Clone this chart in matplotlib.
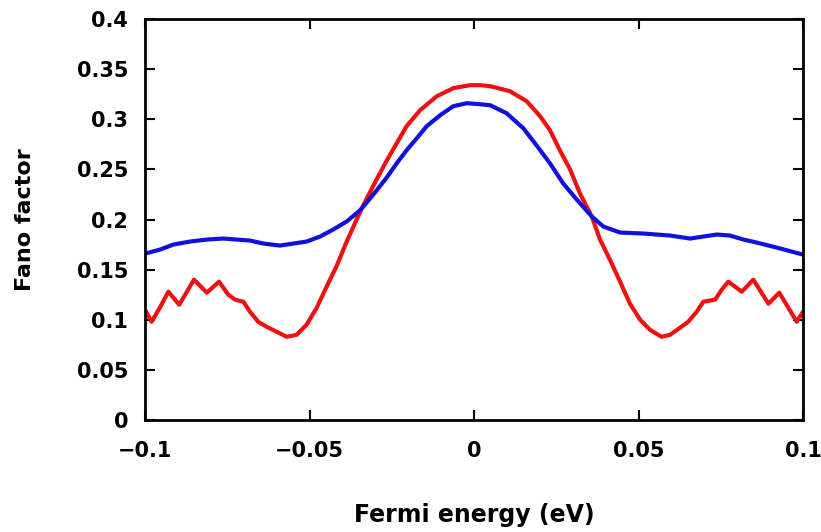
import matplotlib
matplotlib.use("Agg")
import matplotlib.pyplot as plt

# Fermi energy (eV) and Fano factor
red_x = [-0.1000, -0.0980, -0.0955, -0.0929, -0.0896, -0.0851, -0.0812, -0.0775,
         -0.0747, -0.0726, -0.0701, -0.0681, -0.0656, -0.0630, -0.0600, -0.0569,
         -0.0539, -0.0509, -0.0478, -0.0448, -0.0417, -0.0387, -0.0347,
         -0.0326, -0.0296, -0.0265, -0.0235, -0.0205, -0.0164, -0.0113, -0.0063,
         -0.0012, 0.0018, 0.0049, 0.0109, 0.0160, 0.0201, 0.0231, 0.0261,
         0.0292, 0.0322, 0.0358, 0.0383, 0.0413, 0.0444, 0.0474, 0.0505,
         0.0535, 0.0570, 0.0596, 0.0626, 0.0651, 0.0677, 0.0697, 0.0733,
         0.0753, 0.0773, 0.0814, 0.0849, 0.0895, 0.0928, 0.0981, 0.1000]
red_y = [0.110, 0.098, 0.112, 0.128, 0.115, 0.140, 0.127, 0.138,
         0.125, 0.120, 0.118, 0.108, 0.098, 0.093, 0.088, 0.083,
         0.085, 0.095, 0.112, 0.133, 0.154, 0.178, 0.207,
         0.221, 0.240, 0.259, 0.276, 0.293, 0.309, 0.323, 0.331,
         0.334, 0.334, 0.333, 0.328, 0.318, 0.303, 0.289, 0.269,
         0.250, 0.226, 0.203, 0.180, 0.160, 0.138, 0.116, 0.100,
         0.090, 0.083, 0.085, 0.092, 0.098, 0.108, 0.118, 0.120,
         0.130, 0.138, 0.128, 0.140, 0.116, 0.127, 0.098, 0.108]

blue_x = [-0.1000, -0.0954, -0.0914, -0.0863, -0.0812, -0.0762, -0.0721, -0.0681,
          -0.0640, -0.0590, -0.0549, -0.0509, -0.0468, -0.0428, -0.0387, -0.0347,
          -0.0326, -0.0296, -0.0265, -0.0235, -0.0205, -0.0174, -0.0144, -0.0103,
          -0.0063, -0.0022, 0.0018, 0.0049, 0.0099, 0.0150, 0.0190, 0.0231,
          0.0271, 0.0312, 0.0358, 0.0393, 0.0444, 0.0515, 0.0596, 0.0657,
          0.0697, 0.0738, 0.0778, 0.0819, 0.0859, 0.0920, 0.1000]
blue_y = [0.166, 0.170, 0.175, 0.178, 0.180, 0.181, 0.180, 0.179,
          0.176, 0.174, 0.176, 0.178, 0.183, 0.190, 0.198, 0.209,
          0.217, 0.229, 0.242, 0.256, 0.269, 0.281, 0.293, 0.304,
          0.313, 0.316, 0.315, 0.314, 0.306, 0.291, 0.274, 0.256,
          0.236, 0.220, 0.203, 0.193, 0.187, 0.186, 0.184, 0.181,
          0.183, 0.185, 0.184, 0.180, 0.177, 0.172, 0.165]

x_ticks = [-0.1, -0.05, 0, 0.05, 0.1]
x_tick_labels = ["\u22120.1", "\u22120.05", "0", "0.05", "0.1"]
y_ticks = [0, 0.05, 0.1, 0.15, 0.2, 0.25, 0.3, 0.35, 0.4]
y_tick_labels = ["0", "0.05", "0.1", "0.15", "0.2", "0.25", "0.3", "0.35", "0.4"]

plt.rcParams['font.family'] = ['DejaVu Sans']
plt.rcParams['font.weight'] = 'bold'

fig = plt.figure(figsize=(8.21, 5.32), dpi=100)
ax = fig.add_axes([145/821, 112/532, 658/821, 401/532])

ax.plot(red_x, red_y, color='#ee1111', lw=3.0, solid_joinstyle='round', solid_capstyle='round')
ax.plot(blue_x, blue_y, color='#1111dd', lw=3.0, solid_joinstyle='round', solid_capstyle='round')

ax.set_xlim(-0.1, 0.1)
ax.set_ylim(0, 0.4)
ax.set_xticks(x_ticks)
ax.set_xticklabels(x_tick_labels, fontsize=15, fontweight='bold')
ax.set_yticks(y_ticks)
ax.set_yticklabels(y_tick_labels, fontsize=15, fontweight='bold')
ax.tick_params(direction='in', length=7, width=1.5, top=True, right=True)
ax.tick_params(axis='x', pad=15)
ax.tick_params(axis='y', pad=12)
for s in ax.spines.values():
    s.set_linewidth(2)

ax.set_xlabel("Fermi energy (eV)", fontsize=17, fontweight='bold')
ax.set_ylabel("Fano factor", fontsize=16, fontweight='bold')
ax.xaxis.label.set_va('center')
ax.yaxis.label.set_va('center')
ax.xaxis.set_label_coords(0.5, -0.237)
ax.yaxis.set_label_coords(-0.182, 0.5)

fig.savefig("out.png", dpi=100)
